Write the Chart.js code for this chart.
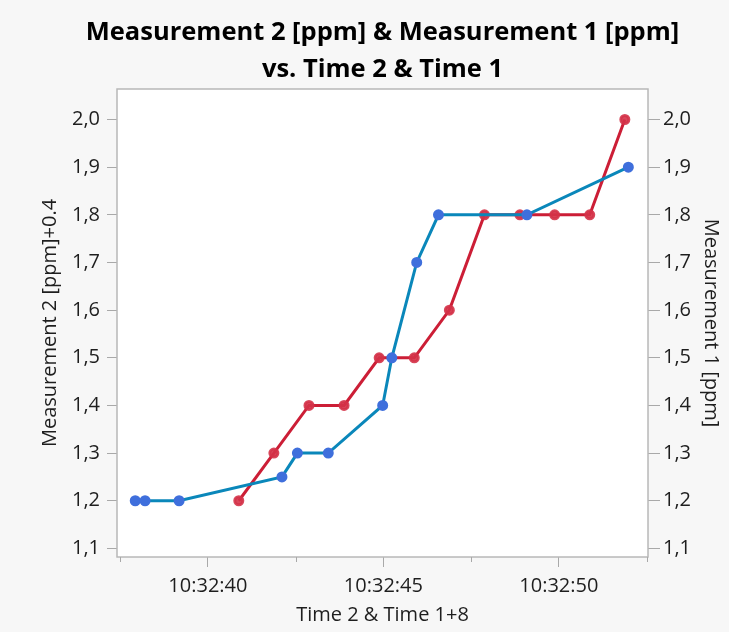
<!DOCTYPE html>
<html>
<head>
<meta charset="utf-8">
<script src="https://cdn.jsdelivr.net/npm/chart.js@4.4.1/dist/chart.umd.min.js"></script>
<style>
  html, body { margin: 0; padding: 0; background: #f7f7f7; }
  canvas { display: block; }
</style>
</head>
<body>
<canvas id="grafico" width="729" height="632"></canvas>
<script>
// --- DADOS (segundos depois de 10:32:00) ---
const TIME2_SEC = [37.93, 38.21, 39.18, 42.11, 42.55, 43.43, 44.98, 45.24, 45.95, 46.57, 49.09, 51.98];
const MEAS2 = [1.2, 1.2, 1.2, 1.25, 1.3, 1.3, 1.4, 1.5, 1.7, 1.8, 1.8, 1.9];

const TIME1_SEC = [40.88, 41.88, 42.88, 43.88, 44.88, 45.88, 46.88, 47.88, 48.89, 49.88, 50.88, 51.88];
const MEAS1 = [1.2, 1.3, 1.4, 1.4, 1.5, 1.5, 1.6, 1.8, 1.8, 1.8, 1.8, 2.0];

const X_TICKS = [37.5, 40, 42.5, 45, 47.5, 50, 52.5];
const Y_TICKS = [1.1, 1.2, 1.3, 1.4, 1.5, 1.6, 1.7, 1.8, 1.9, 2.0];

const TITLE_LINES = ['Measurement 2 [ppm] & Measurement 1 [ppm]', 'vs. Time 2 & Time 1'];

const X_MIN = 37.41, X_MAX = 52.54;
const Y_MIN = 1.082, Y_MAX = 2.064;

// --- ESTILO ---
const FONT = "'Open Sans', 'Noto Sans', sans-serif";
const TEXT = '#1e1e1e';
const AXIS_GREY = '#a9a9a9';

function toPoints(xs, ys) {
    return xs.map((x, i) => ({ x: x, y: ys[i] }));
}

function formatTime(sec) {
    return '10:32:' + String(Math.round(sec)).padStart(2, '0');
}

// fundo branco da área do gráfico + borda + ticks menores do eixo x
const plotFrame = {
    id: 'plotFrame',
    beforeDatasetsDraw(chart) {
        const { ctx, chartArea: a } = chart;
        ctx.save();
        ctx.fillStyle = '#ffffff';
        ctx.fillRect(a.left, a.top, a.right - a.left, a.bottom - a.top);
        ctx.strokeStyle = '#b8b8b8';
        ctx.lineWidth = 1.5;
        ctx.strokeRect(a.left, a.top, a.right - a.left, a.bottom - a.top);

        // ticks menores (sem rótulo) no eixo x
        const xs = chart.scales.x;
        ctx.strokeStyle = AXIS_GREY;
        ctx.lineWidth = 1;
        xs.ticks.forEach(t => {
            if (t.value % 5 !== 0) {
                const px = Math.round(xs.getPixelForValue(t.value)) + 0.5;
                ctx.beginPath();
                ctx.moveTo(px, a.bottom);
                ctx.lineTo(px, a.bottom + 5);
                ctx.stroke();
            }
        });
        ctx.restore();
    },
    // título centrado sobre a área do gráfico (não sobre o canvas)
    afterDraw(chart) {
        const { ctx, chartArea: a } = chart;
        ctx.save();
        ctx.fillStyle = '#000';
        ctx.font = `bold 25.5px ${FONT}`;
        ctx.textAlign = 'center';
        ctx.textBaseline = 'middle';
        const cx = (a.left + a.right) / 2;
        TITLE_LINES.forEach((line, i) => ctx.fillText(line, cx, 33 + i * 37));
        ctx.restore();
    }
};

const ctx = document.getElementById('grafico').getContext('2d');
new Chart(ctx, {
    type: 'line',
    data: {
        datasets: [
            {
                label: 'Measurement 2 [ppm]+0.4',
                data: toPoints(TIME2_SEC, MEAS2),
                yAxisID: 'y',
                borderColor: '#0a87ba',
                borderWidth: 3,
                pointBackgroundColor: '#3f6fdc',
                pointBorderColor: '#3f6fdc',
                pointRadius: 4,
                tension: 0
            },
            {
                label: 'Measurement 1 [ppm]',
                data: toPoints(TIME1_SEC, MEAS1),
                yAxisID: 'y1',
                borderColor: '#cc1e36',
                borderWidth: 3,
                pointBackgroundColor: 'rgba(212, 50, 72, 0.9)',
                pointBorderColor: 'rgba(212, 50, 72, 0.9)',
                pointRadius: 4,
                tension: 0
            }
        ]
    },
    options: {
        responsive: false,
        devicePixelRatio: 1,
        animation: false,
        layout: { padding: { top: 89 } },
        plugins: {
            legend: { display: false },
            tooltip: { enabled: false },
            title: { display: false }
        },
        scales: {
            x: {
                type: 'linear',
                position: 'bottom',
                min: X_MIN,
                max: X_MAX,
                afterBuildTicks: s => { s.ticks = X_TICKS.map(v => ({ value: v })); },
                afterFit: s => { s.height = 75; },
                ticks: {
                    autoSkip: false,
                    maxRotation: 0,
                    padding: 7,
                    color: TEXT,
                    font: { family: FONT, size: 20 },
                    callback: v => (v % 5 === 0 ? formatTime(v) : '')
                },
                grid: {
                    drawOnChartArea: false,
                    tickLength: 10,
                    tickColor: c => (c.tick && c.tick.value % 5 === 0 ? AXIS_GREY : 'rgba(0,0,0,0)')
                },
                border: { display: false },
                title: {
                    display: true,
                    text: 'Time 2 & Time 1+8',
                    color: TEXT,
                    font: { family: FONT, size: 20 },
                    padding: { top: 0, bottom: 5 }
                }
            },
            y: {
                position: 'left',
                min: Y_MIN,
                max: Y_MAX,
                afterBuildTicks: s => { s.ticks = Y_TICKS.map(v => ({ value: v })); },
                afterFit: s => { s.width = 117; },
                ticks: {
                    padding: 7,
                    color: TEXT,
                    font: { family: FONT, size: 20 },
                    callback: v => v.toFixed(1).replace('.', ',')
                },
                grid: { drawOnChartArea: false, tickLength: 10, tickColor: AXIS_GREY },
                border: { display: false },
                title: {
                    display: true,
                    text: 'Measurement 2 [ppm]+0.4',
                    color: TEXT,
                    font: { family: FONT, size: 20 },
                    padding: { top: 38, bottom: 0 }
                }
            },
            y1: {
                position: 'right',
                min: Y_MIN,
                max: Y_MAX,
                afterBuildTicks: s => { s.ticks = Y_TICKS.map(v => ({ value: v })); },
                afterFit: s => { s.width = 81; },
                ticks: {
                    padding: 3,
                    color: TEXT,
                    font: { family: FONT, size: 20 },
                    callback: v => v.toFixed(1).replace('.', ',')
                },
                grid: { drawOnChartArea: false, tickLength: 12, tickColor: AXIS_GREY },
                border: { display: false },
                title: {
                    display: true,
                    text: 'Measurement 1 [ppm]',
                    color: TEXT,
                    font: { family: FONT, size: 20 },
                    padding: { top: 6, bottom: 0 }
                }
            }
        }
    },
    plugins: [plotFrame]
});
</script>
</body>
</html>
